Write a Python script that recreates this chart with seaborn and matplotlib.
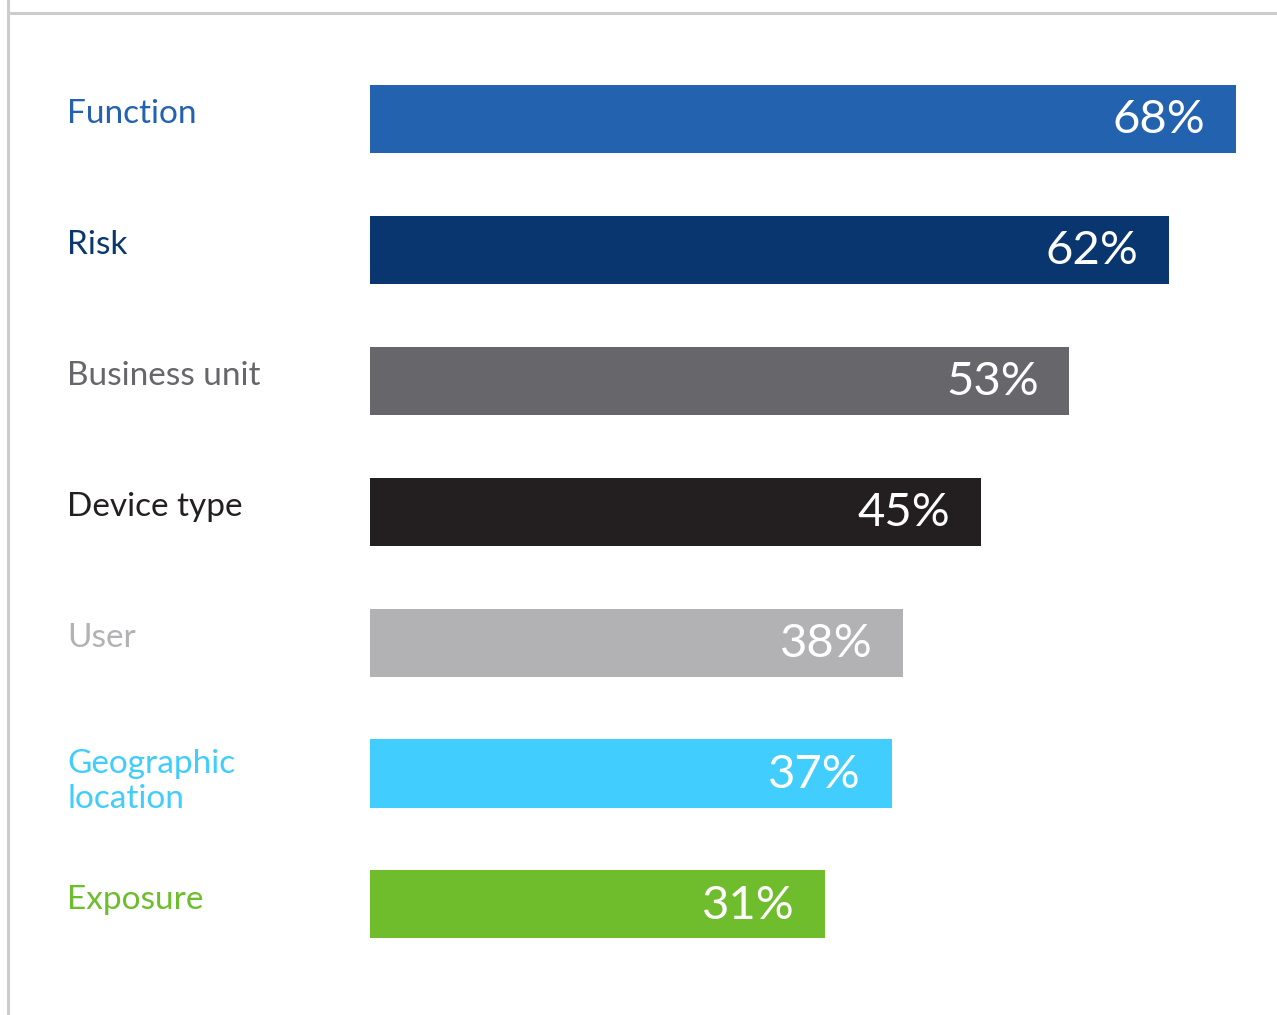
import matplotlib
matplotlib.use("Agg")
import matplotlib.pyplot as plt
import matplotlib.transforms as mtransforms
from matplotlib.lines import Line2D
import seaborn as sns
import pandas as pd

# Data
categories = ["Function", "Risk", "Business unit", "Device type", "User",
              "Geographic\nlocation", "Exposure"]
values = [68, 62, 53, 45, 38, 37, 31]
bar_colors = ["#2262AF", "#09366E", "#67666B", "#231F20", "#B2B2B4",
              "#41CDFD", "#6FBD2C"]
label_colors = ["#2262AF", "#0A376E", "#66666B", "#231F20", "#B2B2B4",
                "#40CDFE", "#6EBD2C"]

BASELINE = -10  # bars are drawn from this common left edge

sns.set_theme(style="white")
plt.rcParams["font.family"] = ["Lato", "DejaVu Sans"]

W, H = 1277, 1015
fig = plt.figure(figsize=(W / 100, H / 100), dpi=100)
fig.patch.set_facecolor("white")

ax_left = 370 / W
ax = fig.add_axes([ax_left, 0, 1 - ax_left, 1])

df = pd.DataFrame({"category": categories, "value": values})
sns.barplot(data=df, x="value", y="category", hue="category",
            palette=bar_colors, legend=False, width=0.52, saturation=1,
            ax=ax)

for patch, v in zip(ax.patches, values):
    patch.set_x(BASELINE)
    patch.set_width(v - BASELINE)
    patch.set_linewidth(0)

px_per_unit = 11.1
row_px = 130.9
ax.set_xlim(BASELINE, BASELINE + (W - 370) / px_per_unit)
ax.set_ylim((H - 119) / row_px, -119 / row_px)
ax.axis("off")

# Value labels inside the bars
for i, v in enumerate(values):
    ax.annotate(f"{v}%", xy=(v, i), xytext=(-22, -1),
                textcoords="offset points", ha="right", va="center",
                color="white", fontsize=34, fontweight="normal")

# Category labels on the left
trans = mtransforms.blended_transform_factory(fig.transFigure, ax.transData)
for i, (cat, col) in enumerate(zip(categories, label_colors)):
    dy = 0.06 if "\n" in cat else -0.035
    ax.text(67 / W, i + dy, cat, transform=trans, ha="left", va="center",
            color=col, fontsize=24, linespacing=1.2, clip_on=False)

# Frame lines
fig.add_artist(Line2D([8 / W, 8 / W], [0, 1], transform=fig.transFigure,
                      color="#CCCCCC", lw=2.2))
fig.add_artist(Line2D([8 / W, 1], [1 - 12.5 / H, 1 - 12.5 / H],
                      transform=fig.transFigure, color="#CCCCCC", lw=2.2))

fig.savefig("out.png", dpi=100)
